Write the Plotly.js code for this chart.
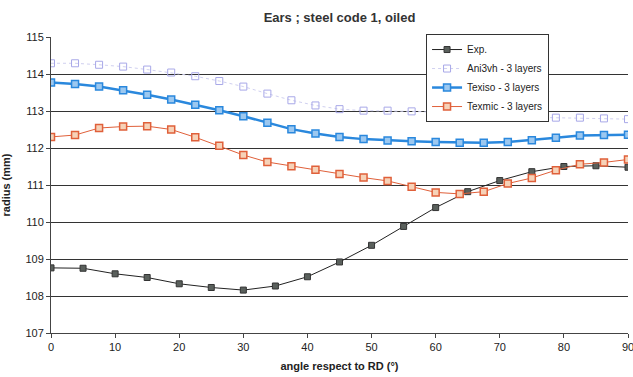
<!DOCTYPE html>
<html><head><meta charset="utf-8">
<script src="https://cdn.plot.ly/plotly-3.0.1.min.js"></script>
<style>html,body{margin:0;padding:0;background:#fff}#c{width:633px;height:377px}</style>
</head><body><div id="c"></div>
<script>
const expAngles = [0,5,10,15,20,25,30,35,40,45,50,55,60,65,70,75,80,85,90];
const expRadius = [108.76,108.75,108.60,108.50,108.33,108.23,108.16,108.27,108.52,108.92,109.37,109.88,110.39,110.82,111.12,111.36,111.50,111.52,111.48];
const simAngles = [0,3.75,7.5,11.25,15,18.75,22.5,26.25,30,33.75,37.5,41.25,45,48.75,52.5,56.25,60,63.75,67.5,71.25,75,78.75,82.5,86.25,90];
const ani3vh = [114.29,114.29,114.25,114.20,114.12,114.04,113.94,113.81,113.66,113.47,113.29,113.15,113.05,113.01,113.01,112.99,112.97,112.93,112.88,112.85,112.83,112.82,112.82,112.80,112.78];
const texiso = [113.77,113.73,113.66,113.56,113.44,113.31,113.17,113.02,112.86,112.68,112.51,112.39,112.30,112.24,112.20,112.18,112.16,112.14,112.14,112.16,112.21,112.28,112.34,112.35,112.36];
const texmic = [112.30,112.35,112.54,112.58,112.59,112.50,112.29,112.06,111.81,111.62,111.51,111.41,111.30,111.20,111.11,110.95,110.80,110.76,110.82,111.04,111.19,111.40,111.56,111.61,111.69];
const names = ["Exp.","Ani3vh - 3 layers","Texiso - 3 layers","Texmic - 3 layers"];

const traces = [
  {x: expAngles, y: expRadius, name: names[0], mode: "lines+markers",
   line: {color: "#222", width: 1},
   marker: {symbol: "square", size: 6, color: "#5a605c", line: {color: "#333", width: 1}}},
  {x: simAngles, y: ani3vh, name: names[1], mode: "lines+markers",
   line: {color: "#d0d0f0", width: 1, dash: "dot"},
   marker: {symbol: "square-open", size: 7, color: "#a8a8e8", line: {width: 1}}},
  {x: simAngles, y: texiso, name: names[2], mode: "lines+markers",
   line: {color: "#2a88dd", width: 2.5},
   marker: {symbol: "square", size: 7, color: "#9cc8f0", line: {color: "#2a88dd", width: 1.5}}},
  {x: simAngles, y: texmic, name: names[3], mode: "lines+markers",
   line: {color: "#e0603a", width: 1},
   marker: {symbol: "square", size: 7, color: "#f6d2b8", line: {color: "#e0603a", width: 1.5}}}
];

const layout = {
  width: 633, height: 377,
  margin: {l: 51, r: 5, t: 37, b: 44},
  paper_bgcolor: "#fff", plot_bgcolor: "#fff",
  font: {family: "Liberation Sans, Arial, sans-serif", size: 11, color: "#222"},
  title: {text: "<b>Ears ; steel code 1, oiled</b>", x: 0.5, xref: "paper", y: 0.955, yanchor: "middle",
          font: {size: 13, color: "#333"}},
  xaxis: {range: [0, 90], dtick: 10, tick0: 0, showgrid: false, zeroline: false, ticklabeloverflow: "allow",
          showline: true, linecolor: "#444", linewidth: 1, ticks: "outside", ticklen: 4, tickcolor: "#444",
          tickfont: {size: 11}, title: {text: "<b>angle respect to RD (°)</b>", font: {size: 11}, standoff: 10}},
  yaxis: {range: [107, 115], dtick: 1, showgrid: true, gridcolor: "#333", gridwidth: 1, zeroline: false,
          showline: true, linecolor: "#444", linewidth: 1, ticks: "outside", ticklen: 4, tickcolor: "#444",
          tickfont: {size: 11}, title: {text: "<b>radius (mm)</b>", font: {size: 11}, standoff: 12}},
  showlegend: true,
  legend: {x: 0.65, y: 1.01, xanchor: "left", yanchor: "top", bgcolor: "#fff", bordercolor: "#333", borderwidth: 1,
           font: {size: 10, color: "#222"}, tracegroupgap: 0, itemwidth: 30}
};
Plotly.newPlot("c", traces, layout, {displayModeBar: false});
</script></body></html>
